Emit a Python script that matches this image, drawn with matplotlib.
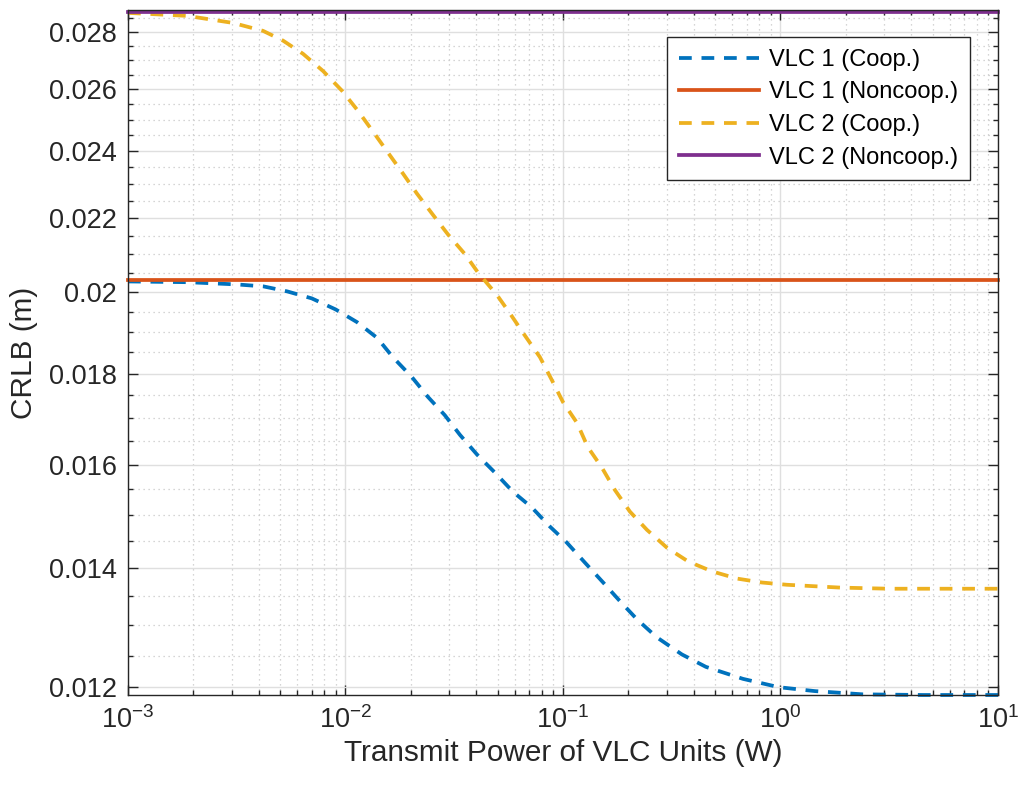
import numpy as np
import matplotlib
matplotlib.use('Agg')
import matplotlib.pyplot as plt
from matplotlib.ticker import FixedLocator, FuncFormatter, LogLocator, NullFormatter

plt.rcParams['font.family'] = ['Liberation Sans', 'DejaVu Sans']
plt.rcParams['mathtext.fontset'] = 'custom'
plt.rcParams['mathtext.rm'] = 'Liberation Sans'
plt.rcParams['mathtext.it'] = 'Liberation Sans:italic'

# Values (transmit power in W, CRLB in m)
power_vlc1_coop = [0.001, 0.0019, 0.0032, 0.0042, 0.0054, 0.0070, 0.0090, 0.0113, 0.0140,
                   0.0165, 0.0202, 0.0239, 0.0286, 0.0336, 0.0403, 0.0486, 0.0589, 0.0719,
                   0.0871, 0.104, 0.126, 0.153, 0.183, 0.219, 0.270, 0.352, 0.454, 0.673,
                   0.984, 1.44, 2.39, 4.52, 10.0]
crlb_vlc1_coop = [0.02028, 0.02026, 0.02020, 0.02015, 0.02002, 0.01984, 0.01956, 0.01924,
                  0.01885, 0.01839, 0.01792, 0.01747, 0.01706, 0.01663, 0.01621, 0.01584,
                  0.01545, 0.01514, 0.01477, 0.01447, 0.01410, 0.01374, 0.01341, 0.01310,
                  0.01280, 0.01252, 0.01232, 0.01213, 0.01200, 0.01194, 0.01189, 0.01188,
                  0.01188]

power_vlc2_coop = [0.001, 0.00187, 0.00304, 0.00418, 0.00516, 0.00638, 0.00789, 0.00964,
                   0.0114, 0.0134, 0.0157, 0.0184, 0.0213, 0.0252, 0.0296, 0.0354, 0.0406,
                   0.0498, 0.0570, 0.0668, 0.0783, 0.0889, 0.100, 0.116, 0.130, 0.151,
                   0.173, 0.203, 0.243, 0.301, 0.376, 0.484, 0.631, 0.822, 1.07, 1.88,
                   3.18, 10.0]
crlb_vlc2_coop = [0.02870, 0.02859, 0.02833, 0.02804, 0.02769, 0.02722, 0.02662, 0.02595,
                  0.02529, 0.02461, 0.02395, 0.02331, 0.02272, 0.02211, 0.02155, 0.02101,
                  0.02052, 0.01992, 0.01946, 0.01891, 0.01839, 0.01785, 0.01735, 0.01689,
                  0.01637, 0.01594, 0.01549, 0.01506, 0.01471, 0.01437, 0.01412, 0.01394,
                  0.01381, 0.01374, 0.01370, 0.01365, 0.01363, 0.01363]

power_noncoop = [0.001, 10.0]
crlb_vlc1_noncoop = [0.02033, 0.02033]
crlb_vlc2_noncoop = [0.02875, 0.02875]

y_major = [0.012, 0.014, 0.016, 0.018, 0.020, 0.022, 0.024, 0.026, 0.028]

# MATLAB default colour order
c_blue, c_orange, c_yellow, c_purple = '#0072BD', '#D95319', '#EDB120', '#7E2F8E'
axis_color = '#262626'

fig = plt.figure(figsize=(10.19, 7.89), dpi=100)
ax = fig.add_axes([128 / 1019, 1 - 695 / 789, 870 / 1019, 685 / 789])

lw = 2.7
dash = (3.4, 2.6)
ax.plot(power_vlc1_coop, crlb_vlc1_coop, '--', color=c_blue, lw=lw, dashes=dash,
        label='VLC 1 (Coop.)', clip_on=False)
ax.plot(power_noncoop, crlb_vlc1_noncoop, '-', color=c_orange, lw=lw,
        label='VLC 1 (Noncoop.)', clip_on=False)
ax.plot(power_vlc2_coop, crlb_vlc2_coop, '--', color=c_yellow, lw=lw, dashes=dash,
        label='VLC 2 (Coop.)', clip_on=False)
ax.plot(power_noncoop, crlb_vlc2_noncoop, '-', color=c_purple, lw=lw,
        label='VLC 2 (Noncoop.)', clip_on=False)

ax.set_xscale('log')
ax.set_yscale('log')
ax.set_xlim(1e-3, 1e1)
all_y = crlb_vlc1_coop + crlb_vlc2_coop + crlb_vlc1_noncoop + crlb_vlc2_noncoop
ax.set_ylim(min(all_y), max(all_y) * 1.002)

# ticks
ax.xaxis.set_major_locator(LogLocator(base=10, numticks=10))
ax.xaxis.set_minor_locator(LogLocator(base=10, subs=np.arange(2, 10), numticks=20))
ax.xaxis.set_minor_formatter(NullFormatter())
ax.yaxis.set_major_locator(FixedLocator(y_major))
ax.yaxis.set_minor_locator(FixedLocator(np.arange(0.0115, 0.0290, 0.0005)))
ax.yaxis.set_major_formatter(FuncFormatter(lambda v, p: '%g' % v))
ax.yaxis.set_minor_formatter(NullFormatter())

ax.tick_params(which='both', direction='in', top=True, right=True, colors=axis_color,
               labelsize=19.5, width=1.0)
ax.tick_params(which='major', length=7, pad=8)
ax.tick_params(which='minor', length=3.5)
for s in ax.spines.values():
    s.set_color(axis_color)
    s.set_linewidth(1.0)

ax.grid(which='major', color='#dfdfdf', linestyle='-', linewidth=1.0)
ax.grid(which='minor', color='#c8c8c8', linestyle=(0, (1, 3)), linewidth=0.9)
ax.set_axisbelow(True)

ax.set_xlabel('Transmit Power of VLC Units (W)', fontsize=21.4, color=axis_color, labelpad=4)
ax.set_ylabel('CRLB (m)', fontsize=21.4, color=axis_color, labelpad=8)

leg = ax.legend(loc='upper right', bbox_to_anchor=((970 - 128) / 870, (695 - 37) / 685),
                borderaxespad=0, fontsize=17, handlelength=3.4, handletextpad=0.42,
                labelspacing=0.45, borderpad=0.5, fancybox=False, framealpha=1)
leg.get_frame().set_edgecolor(axis_color)
leg.get_frame().set_linewidth(1.0)

fig.savefig('out.png', dpi=100)
